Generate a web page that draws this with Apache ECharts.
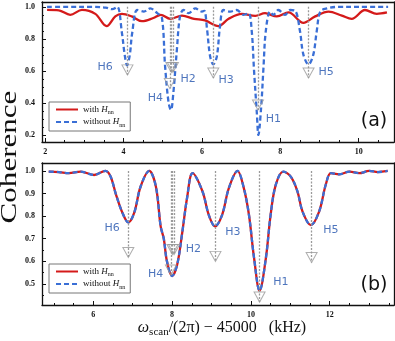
<!DOCTYPE html>
<html>
<head>
<meta charset="utf-8">
<script src="https://cdn.jsdelivr.net/npm/echarts@6/dist/echarts.min.js"></script>
<style>html,body{margin:0;padding:0;background:#fff}#main{width:395px;height:341px}</style>
</head>
<body>
<div id="main"></div>
<script>
// panel (a) curves
var topWithX = [2.05, 2.35, 2.64, 2.94, 3.28, 3.57, 3.79, 3.96, 4.21, 4.47, 4.76, 4.95, 5.19, 5.49, 5.80, 6.08, 6.42, 6.68, 7.02, 7.36, 7.61, 7.91, 8.21, 8.59, 8.89, 9.23, 9.57, 9.82, 10.16, 10.46, 10.72];
var topWithY = [0.981, 0.978, 0.950, 0.981, 0.956, 0.880, 0.940, 0.956, 0.940, 0.910, 0.930, 0.950, 0.925, 0.945, 0.925, 0.915, 0.880, 0.925, 0.956, 0.944, 0.960, 0.940, 0.965, 0.900, 0.940, 0.970, 0.945, 0.925, 0.980, 0.956, 0.965];
var topWithoutX = [2.05, 2.6, 3.2, 3.55, 3.71, 3.84, 3.96, 4.03, 4.09, 4.16, 4.22, 4.35, 4.52, 4.68, 4.86, 4.98, 5.06, 5.15, 5.21, 5.27, 5.36, 5.44, 5.53, 5.66, 5.83, 6.00, 6.06, 6.13, 6.21, 6.29, 6.38, 6.46, 6.55, 6.72, 6.89, 7.06, 7.19, 7.27, 7.33, 7.40, 7.44, 7.51, 7.57, 7.63, 7.74, 7.82, 7.95, 8.12, 8.25, 8.38, 8.50, 8.59, 8.72, 8.84, 8.93, 9.02, 9.19, 9.5, 10.0, 10.75];
var topWithoutY = [1.0, 1.0, 1.0, 0.995, 0.985, 1.0, 0.835, 0.70, 0.635, 0.70, 0.835, 0.980, 0.970, 0.990, 0.960, 0.930, 0.63, 0.40, 0.356, 0.46, 0.73, 0.94, 0.98, 0.96, 0.99, 0.97, 0.975, 0.86, 0.69, 0.64, 0.69, 0.875, 0.98, 0.97, 0.98, 0.95, 0.96, 0.85, 0.60, 0.34, 0.20, 0.37, 0.62, 0.85, 0.97, 0.95, 0.98, 0.95, 0.98, 0.975, 0.85, 0.70, 0.64, 0.70, 0.85, 0.97, 0.99, 1.0, 1.0, 1.0];

// panel (b) curve (both series coincide)
var botX = [4.87, 5.13, 5.38, 5.68, 6.02, 6.31, 6.44, 6.57, 6.74, 6.89, 7.04, 7.20, 7.42, 7.59, 7.71, 7.79, 7.87, 8.0, 8.13, 8.26, 8.38, 8.52, 8.77, 8.93, 9.09, 9.27, 9.44, 9.66, 9.82, 9.95, 10.08, 10.22, 10.38, 10.50, 10.63, 10.82, 11.01, 11.18, 11.31, 11.52, 11.73, 11.90, 12.03, 12.24, 12.5, 12.75, 13.0, 13.22, 13.47];
var botY = [0.997, 0.995, 0.99, 0.997, 0.982, 1.0, 0.975, 0.90, 0.815, 0.772, 0.815, 0.93, 1.0, 0.93, 0.755, 0.70, 0.60, 0.535, 0.586, 0.73, 0.88, 0.99, 0.91, 0.806, 0.755, 0.806, 0.924, 1.0, 0.924, 0.806, 0.615, 0.47, 0.615, 0.806, 0.938, 0.997, 0.975, 0.91, 0.82, 0.76, 0.82, 0.94, 0.99, 0.985, 0.997, 0.99, 1.0, 0.995, 1.0];

// arrows (x, tip value)
var topArrowX = [4.10, 5.18, 5.22, 5.26, 6.29, 7.43, 8.72];
var topArrowTip = [0.575, 0.49, 0.59, 0.59, 0.556, 0.356, 0.556];
var botArrowX = [6.89, 7.97, 8.01, 8.05, 9.10, 10.22, 11.54];
var botArrowTip = [0.617, 0.54, 0.63, 0.63, 0.60, 0.42, 0.595];

// peak names
var peakNames = ['H6', 'H4', 'H2', 'H3', 'H1', 'H5'];
var topLabelX = [3.53, 4.81, 5.65, 6.62, 7.82, 9.17];
var topLabelY = [0.625, 0.43, 0.55, 0.544, 0.30, 0.594];
var botLabelX = [6.48, 7.58, 8.54, 9.54, 10.76, 12.03];
var botLabelY = [0.749, 0.542, 0.652, 0.731, 0.507, 0.74];

// ticks
var topXTicks = [2, 4, 6, 8, 10];
var topYTicks = [0.2, 0.4, 0.6, 0.8, 1.0];
var botXTicks = [6, 8, 10, 12];
var botYTicks = [0.5, 0.6, 0.7, 0.8, 0.9, 1.0];

var RED = '#d41a1a';
var BLUE = '#3a6fd6';
var TXTBLUE = '#2252ad';
var GRAY = '#9a9a9a';

function zip(a, b) {
    var out = [];
    for (var i = 0; i < a.length; i++) out.push([a[i], b[i]]);
    return out;
}
function steps(from, to, st) {
    var out = [];
    for (var v = from; v <= to + 1e-9; v += st) out.push(Math.round(v * 100) / 100);
    return out;
}

var xAxes = [];
var yAxes = [];
function addAxes(list, dim, grid, min, max, major, minor, fmt) {
    var pos = dim == 'x' ? 'bottom' : 'left';
    var opp = dim == 'x' ? 'top' : 'right';
    list.push({
        type: 'value', gridIndex: grid, position: pos, min: min, max: max,
        axisLine: {show: true, onZero: false, lineStyle: {color: '#111', width: 1.3}},
        axisTick: {show: true, inside: true, length: 4, customValues: major, lineStyle: {color: '#111'}},
        axisLabel: {customValues: major, formatter: fmt, fontSize: 8, fontWeight: 'bold', color: '#111',
            fontFamily: 'Liberation Serif', margin: dim == 'x' ? 6 : 7},
        splitLine: {show: false}
    });
    list.push({
        type: 'value', gridIndex: grid, position: pos, min: min, max: max,
        axisLine: {show: false},
        axisTick: {show: true, inside: true, length: 2, customValues: minor, lineStyle: {color: '#111'}},
        axisLabel: {show: false}, splitLine: {show: false}
    });
    list.push({
        type: 'value', gridIndex: grid, position: opp, min: min, max: max,
        axisLine: {show: true, onZero: false, lineStyle: {color: '#111', width: 1.3}},
        axisTick: {show: false}, axisLabel: {show: false}, splitLine: {show: false}
    });
}
var f1 = function(v){ return v.toFixed(1); };
var f0 = function(v){ return String(Math.round(v)); };
addAxes(xAxes, 'x', 0, 1.92, 10.9, topXTicks, steps(2, 10.5, 0.5), f0);
addAxes(yAxes, 'y', 0, 0.156, 1.03, topYTicks, steps(0.2, 1.0, 0.05), f1);
addAxes(xAxes, 'x', 1, 4.7, 13.63, botXTicks, steps(5, 13.5, 0.5), f0);
addAxes(yAxes, 'y', 1, 0.407, 1.035, botYTicks, steps(0.45, 1.0, 0.05), f1);

var series = [];
function curves(ax, wx, wy, ox, oy) {
    series.push({
        name: 'with Hnn', type: 'line', xAxisIndex: ax, yAxisIndex: ax, data: zip(wx, wy),
        smooth: 0.35, symbol: 'none', z: 3,
        itemStyle: {color: RED}, lineStyle: {color: RED, width: 2.3}
    });
    series.push({
        name: 'without Hnn', type: 'line', xAxisIndex: ax, yAxisIndex: ax, data: zip(ox, oy),
        smooth: 0.35, symbol: 'none', z: 4,
        itemStyle: {color: BLUE}, lineStyle: {color: BLUE, width: 2.3, type: [5, 3]}
    });
}
function arrows(ax, xs, tips) {
    var segs = [], pts = [];
    for (var i = 0; i < xs.length; i++) {
        segs.push({coords: [[xs[i], 1.0], [xs[i], tips[i]]]});
        pts.push([xs[i], tips[i]]);
    }
    series.push({
        type: 'lines', coordinateSystem: 'cartesian2d', xAxisIndex: ax, yAxisIndex: ax,
        data: segs, silent: true, z: 5,
        lineStyle: {color: GRAY, width: 1.3, type: [2, 1.5], opacity: 1}
    });
    series.push({
        type: 'scatter', xAxisIndex: ax, yAxisIndex: ax, data: pts, silent: true, z: 6,
        symbol: 'path://M0,0L10,0L5,10Z', symbolSize: [11, 10], symbolOffset: [0, -5],
        itemStyle: {color: 'rgba(255,255,255,0)', borderColor: GRAY, borderWidth: 1}
    });
}
function names(ax, xs, ys) {
    var d = [];
    for (var i = 0; i < peakNames.length; i++) d.push({name: peakNames[i], value: [xs[i], ys[i]]});
    series.push({
        type: 'scatter', xAxisIndex: ax, yAxisIndex: ax, data: d, silent: true, z: 7,
        symbolSize: 1, itemStyle: {color: 'rgba(0,0,0,0)'},
        label: {show: true, position: 'inside', formatter: '{b}', color: TXTBLUE,
            fontSize: 11, fontFamily: 'DejaVu Sans'}
    });
}
curves(0, topWithX, topWithY, topWithoutX, topWithoutY);
curves(3, botX, botY, botX, botY);
arrows(0, topArrowX, topArrowTip);
arrows(3, botArrowX, botArrowTip);
names(0, topLabelX, topLabelY);
names(3, botLabelX, botLabelY);

var legendRich = {
    t: {fontFamily: 'Liberation Serif', fontSize: 9, color: '#111', lineHeight: 12},
    i: {fontFamily: 'Liberation Serif', fontStyle: 'italic', fontSize: 9, color: '#111', lineHeight: 12},
    s: {fontFamily: 'Liberation Serif', fontSize: 6, color: '#111', lineHeight: 12, verticalAlign: 'bottom'}
};
function legendAt(top) {
    return {
        orient: 'vertical', left: 49, top: top, data: ['with Hnn', 'without Hnn'],
        itemWidth: 22, itemHeight: 10, itemGap: 2, padding: [3, 5, 3, 6],
        borderColor: '#777', borderWidth: 1, backgroundColor: '#fff', selectedMode: false,
        // hide the marker dot, keep only the line sample
        itemStyle: {color: 'rgba(0,0,0,0)', borderWidth: 0},
        formatter: function(n){ return (n == 'with Hnn' ? '{t|with }' : '{t|without }') + '{i|H}{s|nn}'; },
        textStyle: {rich: legendRich}
    };
}

var chart = echarts.init(document.getElementById('main'));
chart.setOption({
    animation: false,
    backgroundColor: '#fff',
    grid: [
        {left: 42, top: 2, width: 352, height: 140},
        {left: 42, top: 163, width: 352, height: 142}
    ],
    xAxis: xAxes,
    yAxis: yAxes,
    legend: [legendAt(102), legendAt(264)],
    series: series,
    graphic: [
        {type: 'text', x: 374, y: 121, z: 10, style: {text: '(a)', font: '19px DejaVu Sans', fill: '#111', align: 'center', verticalAlign: 'middle'}},
        {type: 'text', x: 374, y: 285, z: 10, style: {text: '(b)', font: '19px DejaVu Sans', fill: '#111', align: 'center', verticalAlign: 'middle'}},
        {type: 'text', x: 10, y: 157, rotation: Math.PI / 2, scaleX: 1.35, z: 10,
            style: {text: 'Coherence', font: '23px Liberation Serif', fill: '#111', align: 'center', verticalAlign: 'middle'}},
        {type: 'text', x: 222, y: 328, z: 10,
            style: {
                text: '{w|ω}{s|scan}{t|/(2π) − 45000   (kHz)}', align: 'center', verticalAlign: 'middle',
                rich: {
                    w: {font: 'italic 16px Liberation Serif', fill: '#111', lineHeight: 20},
                    s: {font: '11px Liberation Serif', fill: '#111', lineHeight: 20, verticalAlign: 'bottom'},
                    t: {font: '16px Liberation Serif', fill: '#111', lineHeight: 20}
                }
            }}
    ]
});
</script>
</body>
</html>
